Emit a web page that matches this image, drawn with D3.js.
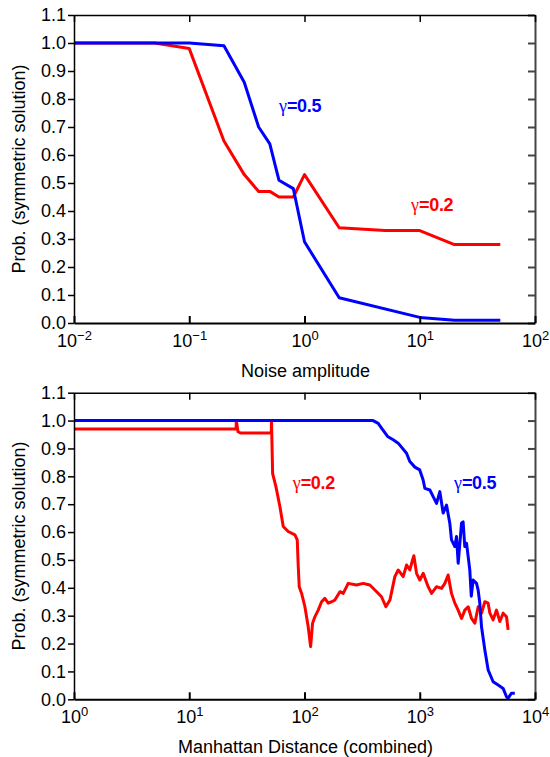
<!DOCTYPE html>
<html>
<head>
<meta charset="utf-8">
<script src="https://cdn.jsdelivr.net/npm/d3@7"></script>
<style>
  body { margin: 0; background: #fff; }
  svg text { font-family: "Liberation Sans", Arial, sans-serif; }
</style>
</head>
<body>
<div id="main"></div>
<script>
// ---- data ----

// top panel: noise amplitude sweep
const noiseRed = [0.01, 0.05, 0.1, 0.2, 0.3, 0.4, 0.5, 0.6, 0.8, 1, 2, 5, 10, 20, 50];
const probRedNoise = [1.0, 1.0, 0.98, 0.65, 0.53, 0.47, 0.47, 0.45, 0.45, 0.53, 0.34, 0.33, 0.33, 0.28, 0.28];
const noiseBlue = [0.01, 0.05, 0.1, 0.2, 0.3, 0.4, 0.5, 0.6, 0.8, 1, 2, 10, 20, 50];
const probBlueNoise = [1.0, 1.0, 1.0, 0.99, 0.86, 0.70, 0.64, 0.51, 0.48, 0.29, 0.09, 0.02, 0.01, 0.01];

// bottom panel: manhattan distance (combined)
const distRed = [
  1, 25.5, 25.6, 26.5, 28, 51.5, 51.7, 52.9, 56.5, 61.2,
  65.4, 72.2, 82.6, 86.5, 88.2, 90.0, 94.4, 100.8, 107.7, 113,
  117.5, 123, 131.5, 140.7, 150.3, 160.6, 171.8, 183.5, 202.9, 216.8,
  239.5, 283, 323, 369, 408, 466, 508, 551, 608, 650,
  718, 769, 821, 866, 889, 938, 1002, 1071, 1183, 1266,
  1399, 1545, 1651, 1763, 1886, 2015, 2153, 2305, 2462, 2631,
  2813, 3006, 3213, 3435, 3671, 3922, 4055, 4333, 4636, 4955,
  5290, 5660, 5843
];
const probRedDist = [
  0.97, 0.97, 1.0, 0.96, 0.955, 0.955, 1.0, 0.81, 0.763, 0.691,
  0.62, 0.602, 0.59, 0.572, 0.48, 0.404, 0.38, 0.332, 0.26, 0.189,
  0.273, 0.296, 0.32, 0.35, 0.362, 0.345, 0.35, 0.356, 0.386, 0.38,
  0.416, 0.41, 0.416, 0.41, 0.392, 0.368, 0.332, 0.356, 0.44, 0.464,
  0.44, 0.482, 0.464, 0.5, 0.515, 0.452, 0.428, 0.452, 0.404, 0.38,
  0.404, 0.398, 0.416, 0.446, 0.38, 0.345, 0.32, 0.29, 0.32, 0.332,
  0.29, 0.273, 0.332, 0.309, 0.35, 0.345, 0.31, 0.285, 0.32, 0.279,
  0.309, 0.296, 0.249
];
const distBlue = [
  1, 394, 436, 466, 526, 588, 650, 768, 820, 907,
  1000, 1070, 1107, 1224, 1307, 1399, 1494, 1596, 1707, 1823,
  1886, 2015, 2084, 2155, 2305, 2378, 2460, 2546, 2631, 2718,
  2800, 2904, 3109, 3211, 3319, 3435, 3671, 3922, 4333, 4790,
  5291, 5660, 5843, 6256, 6683
];
const probBlueDist = [
  1.0, 1.0, 0.99, 0.973, 0.943, 0.931, 0.919, 0.883, 0.853, 0.833,
  0.823, 0.787, 0.757, 0.751, 0.727, 0.703, 0.745, 0.668, 0.697, 0.632,
  0.572, 0.548, 0.584, 0.488, 0.632, 0.637, 0.548, 0.56, 0.512, 0.464,
  0.37, 0.428, 0.416, 0.392, 0.345, 0.26, 0.177, 0.105, 0.063, 0.051,
  0.039, 0.009, 0.004, 0.022, 0.022
];

const yTicks = [0, 0.1, 0.2, 0.3, 0.4, 0.5, 0.6, 0.7, 0.8, 0.9, 1.0, 1.1];

// ---- layout ----
const W = 550, H = 757;
const LEFT = 74, RIGHT = 535;

const svg = d3.select('#main').append('svg')
  .attr('width', W).attr('height', H);

const supLabel = (sel, exps) => {
  sel.selectAll('.tick text').each(function (d, i) {
    const t = d3.select(this);
    t.text(null);
    t.append('tspan').text('10');
    t.append('tspan')
      .attr('dy', -7)
      .attr('font-size', 13)
      .text(exps[i] < 0 ? '\u2212' + (-exps[i]) : String(exps[i]));
  });
};

const drawPanel = (props) => {
  const { top, bottom, xDomain, series, xTitle, labels } = props;

  const xScale = d3.scaleLog().domain(xDomain).range([LEFT, RIGHT]);
  const yScale = d3.scaleLinear().domain([0, 1.1]).range([bottom, top]);

  const decades = d3.range(Math.log10(xDomain[0]), Math.log10(xDomain[1]) + 1)
    .map((e) => Math.pow(10, e));
  const exps = decades.map((v) => Math.round(Math.log10(v)));

  const g = svg.append('g');

  // lines
  const line = d3.line()
    .x((d) => xScale(d[0]))
    .y((d) => yScale(d[1]));

  series.forEach((s) => {
    g.append('path')
      .datum(s.xs.map((x, i) => [x, s.ys[i]]))
      .attr('fill', 'none')
      .attr('stroke', s.color)
      .attr('stroke-width', 3)
      .attr('stroke-linejoin', 'round')
      .attr('d', line);
  });

  // right axis (grey, inward ticks)
  const rightAxis = g.append('g')
    .attr('transform', `translate(${RIGHT},0)`)
    .call(d3.axisRight(yScale).tickValues(yTicks).tickSizeInner(-7).tickSizeOuter(0).tickFormat(''));
  rightAxis.selectAll('path, line').attr('stroke', '#444').attr('stroke-width', 2);

  // top axis
  const topAxis = g.append('g')
    .attr('transform', `translate(0,${top})`)
    .call(d3.axisTop(xScale).tickValues(decades).tickSizeInner(-7).tickSizeOuter(0).tickFormat(''));
  topAxis.selectAll('path, line').attr('stroke', '#000').attr('stroke-width', 1.5);

  // left axis (outward ticks)
  const leftAxis = g.append('g')
    .attr('transform', `translate(${LEFT},0)`)
    .call(d3.axisLeft(yScale).tickValues(yTicks).tickSizeInner(6).tickSizeOuter(0).tickPadding(2)
      .tickFormat(d3.format('.1f')));
  leftAxis.selectAll('path, line').attr('stroke', '#000').attr('stroke-width', 1.5);
  leftAxis.selectAll('text').attr('font-size', 18).attr('fill', '#000')
    .attr('font-family', '"Liberation Sans", Arial, sans-serif');

  // bottom axis (inward ticks, 10^n labels)
  const bottomAxis = g.append('g')
    .attr('transform', `translate(0,${bottom})`)
    .call(d3.axisBottom(xScale).tickValues(decades).tickSizeInner(-7).tickSizeOuter(0).tickPadding(0));
  bottomAxis.selectAll('path, line').attr('stroke', '#000').attr('stroke-width', 2);
  bottomAxis.selectAll('text').attr('font-size', 18).attr('fill', '#000')
    .attr('font-family', '"Liberation Sans", Arial, sans-serif')
    .attr('y', 24).attr('dy', null);
  supLabel(bottomAxis, exps);

  // axis titles
  g.append('text')
    .attr('x', (LEFT + RIGHT) / 2 + 1)
    .attr('y', bottom + 54)
    .attr('text-anchor', 'middle')
    .attr('font-size', 18)
    .text(xTitle);

  g.append('text')
    .attr('transform', `translate(25,${(top + bottom) / 2}) rotate(-90)`)
    .attr('text-anchor', 'middle')
    .attr('font-size', 18)
    .text('Prob. (symmetric solution)');

  // gamma labels
  labels.forEach((lb) => {
    const t = g.append('text')
      .attr('x', xScale(lb.x))
      .attr('y', yScale(lb.y))
      .attr('fill', lb.color)
      .attr('font-size', 18)
      .attr('font-weight', 'bold');
    t.append('tspan')
      .attr('font-family', '"Liberation Serif", "DejaVu Serif", serif')
      .attr('font-weight', 'normal')
      .attr('font-size', 18)
      .text('\u03b3');
    t.append('tspan').attr('letter-spacing', -0.3).text(lb.text);
  });
};

drawPanel({
  top: 15,
  bottom: 323,
  xDomain: [0.01, 100],
  xTitle: 'Noise amplitude',
  series: [
    { xs: noiseRed, ys: probRedNoise, color: '#ff0000' },
    { xs: noiseBlue, ys: probBlueNoise, color: '#0000ff' }
  ],
  labels: [
    { x: 0.6, y: 0.755, text: '=0.5', color: '#0000ff' },
    { x: 8.4, y: 0.4, text: '=0.2', color: '#ff0000' }
  ]
});

drawPanel({
  top: 392.7,
  bottom: 699.3,
  xDomain: [1, 10000],
  xTitle: 'Manhattan Distance (combined)',
  series: [
    { xs: distRed, ys: probRedDist, color: '#ff0000' },
    { xs: distBlue, ys: probBlueDist, color: '#0000ff' }
  ],
  labels: [
    { x: 79, y: 0.755, text: '=0.2', color: '#ff0000' },
    { x: 1980, y: 0.755, text: '=0.5', color: '#0000ff' }
  ]
});
</script>
</body>
</html>
